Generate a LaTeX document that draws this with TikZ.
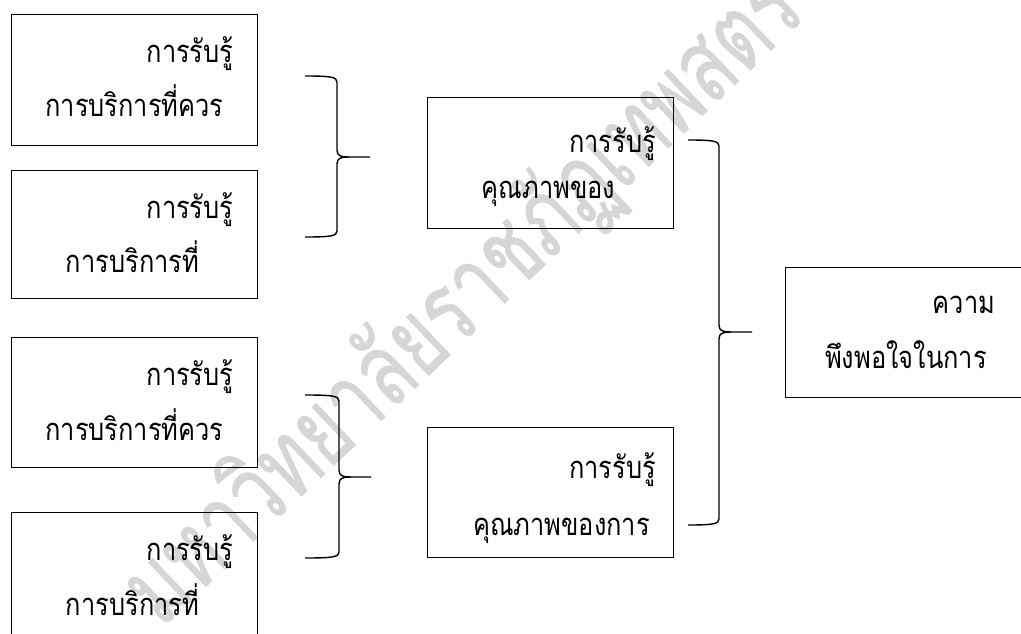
\documentclass[tikz,border=0pt]{standalone}
\usepackage{fontspec}
\newfontfamily\thai[Script=Thai,FakeStretch=0.82]{Loma}
\newfontfamily\thaiwm[Script=Thai,FakeStretch=0.72]{Loma}
\begin{document}
\begin{tikzpicture}[x=1pt,y=-1pt,
  box/.style={draw=black,line width=1pt,rectangle,minimum width=246pt,inner sep=0pt},
  lbl/.style={anchor=base,inner sep=0pt,font=\thai\fontsize{31}{34}\selectfont},
  brc/.style={draw=black,line width=1.4pt},
  wm/.style={text=black!16,font=\thaiwm\fontsize{103}{106}\selectfont,inner sep=0pt}]
\useasboundingbox (0,0) rectangle (1021,634);
\clip (0,0) rectangle (1021,634);
\fill[white] (0,0) rectangle (1021,634);
% watermark
\node[wm,rotate=43.5] (wmark) at (462,298) {\special{pdf:literal direct 2 Tr 0.6 w}มหาวิทยาลัยราชภัฏเทพสตรี\special{pdf:literal direct 0 Tr}};
% boxes
\node[box,minimum height=130pt] (b1) at (134,80) {};
\node[box,minimum height=128pt] (b2) at (134,234) {};
\node[box,minimum height=130pt] (b3) at (134,402) {};
\node[box,minimum height=130pt] (b4) at (134,577) {};
\node[box,minimum height=130pt] (m1) at (550,163) {};
\node[box,minimum height=130pt] (m2) at (550,492) {};
\node[box,minimum height=130pt] (r1) at (908,332) {};
% texts
\node[lbl] (t1a) at (190,63) {การรับรู้};
\node[lbl] (t1b) at (134.5,117) {การบริการที่ควร};
\node[lbl] (t2a) at (190,218) {การรับรู้};
\node[lbl] (t2b) at (132.5,272) {การบริการที่};
\node[lbl] (t3a) at (190,385) {การรับรู้};
\node[lbl] (t3b) at (134.5,440) {การบริการที่ควร};
\node[lbl] (t4a) at (190,560) {การรับรู้};
\node[lbl] (t4b) at (132.5,615) {การบริการที่};
\node[lbl] (m1a) at (612.5,152) {การรับรู้};
\node[lbl] (m1b) at (548.5,198) {คุณภาพของ};
\node[lbl] (m2a) at (612.5,478) {การรับรู้};
\node[lbl] (m2b) at (561.5,535) {คุณภาพของการ};
\node[lbl] (r1a) at (964,313) {ความ};
\node[lbl] (r1b) at (906,368) {พึงพอใจในการ};
% braces
\foreach \nm/\xa/\xb/\xc/\yt/\ym/\yb in {ba/305/337/370/76/157/237, bb/305/339/371/395/477/558, bc/688/719/752/140/332/525}{
  \coordinate (\nm-t) at (\xa,\yt);
  \coordinate (\nm-b) at (\xa,\yb);
  \coordinate (\nm-m) at (\xc,\ym);
  \draw[brc] (\nm-t) .. controls (\xb-6,\yt) and (\xb,\yt+1) .. (\xb,\yt+6)
     -- (\xb,\ym-7) .. controls (\xb,\ym-1) and (\xb+4,\ym) .. (\xb+12,\ym) -- (\nm-m);
  \draw[brc] (\nm-b) .. controls (\xb-6,\yb) and (\xb,\yb-1) .. (\xb,\yb-6)
     -- (\xb,\ym+7) .. controls (\xb,\ym+1) and (\xb+4,\ym) .. (\xb+12,\ym);
}
\end{tikzpicture}
\end{document}
